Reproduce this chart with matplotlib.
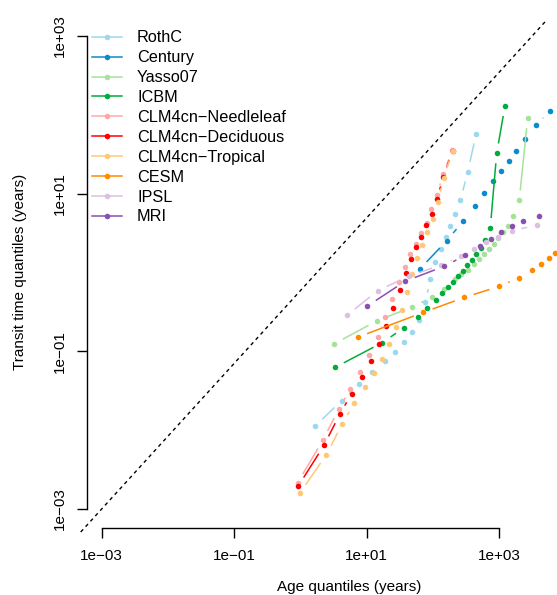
import numpy as np
import matplotlib
matplotlib.use("Agg")
import matplotlib.pyplot as plt
from matplotlib.lines import Line2D
from matplotlib.ticker import FixedLocator, FixedFormatter, NullLocator

plt.rcParams['font.family'] = ['Liberation Sans', 'DejaVu Sans']

# model names and colours, in plotting order
models = ['RothC', 'Century', 'Yasso07', 'ICBM', 'CLM4cn\u2212Needleleaf',
          'CLM4cn\u2212Deciduous', 'CLM4cn\u2212Tropical', 'CESM', 'IPSL', 'MRI']
colors = ['#9dd8ee', '#0a8ccc', '#a6e29a', '#00ad3c', '#ffa8a8',
          '#ff0000', '#ffc878', '#ff8a00', '#dcc0e0', '#8a50b0']

# age quantiles (years) and transit time quantiles (years)
rothc_age = [1.66, 4.21, 7.69, 12.2, 19.0, 27.2, 37.1, 49.4, 62.5, 76.8,
             92.3, 109, 132, 156, 185, 220, 262, 337, 454]
rothc_tt = [0.0112, 0.0237, 0.0382, 0.0542, 0.0748, 0.0982, 0.130, 0.175, 0.248, 0.417,
            0.820, 1.36, 2.00, 2.81, 3.87, 5.44, 8.24, 19.0, 57.7]

century_age = [63.4, 162, 286, 434, 600, 803, 1060, 1400, 1820, 2490, 3610, 5940]
century_tt = [1.10, 2.53, 4.44, 6.93, 10.3, 14.5, 19.4, 26.0, 34.8, 49.0, 73.6, 113]

yasso_age = [3.22, 14.5, 49.0, 97.3, 149, 216, 267, 344, 424, 504,
             597, 706, 832, 982, 1140, 1370, 1640, 2020, 2710]
yasso_tt = [0.124, 0.245, 0.365, 0.489, 0.624, 0.828, 0.944, 1.09, 1.27, 1.48,
            1.72, 2.00, 2.32, 2.70, 3.30, 3.93, 5.14, 8.20, 90.4]

icbm_age = [3.33, 17.3, 37.1, 59.1, 82.6, 110, 138, 169, 204, 243,
            283, 332, 387, 454, 535, 621, 738, 923, 1230]
icbm_tt = [0.0624, 0.129, 0.200, 0.275, 0.358, 0.446, 0.542, 0.646, 0.764, 0.897,
           1.04, 1.25, 1.43, 1.71, 2.03, 2.57, 3.67, 32.5, 129]

needle_age = [0.912, 2.20, 3.79, 5.68, 8.04, 11.0, 14.7, 19.2, 24.4, 30.5,
              38.0, 45.7, 55.2, 66.4, 81.7, 95.5, 116, 143, 198]
needle_tt = [0.00216, 0.0075, 0.0184, 0.0333, 0.0552, 0.0899, 0.153, 0.270, 0.457, 0.764,
             1.19, 1.70, 2.32, 3.14, 4.25, 6.39, 9.62, 17.8, 35.8]

decid_age = [0.931, 2.28, 3.93, 5.96, 8.44, 11.5, 15.2, 19.9, 25.3, 31.6,
             39.0, 46.4, 55.7, 67.0, 79.8, 96.2, 116, 144, 200]
decid_tt = [0.00196, 0.00643, 0.0159, 0.0290, 0.0472, 0.0748, 0.124, 0.209, 0.355, 0.600,
            0.977, 1.50, 2.09, 2.84, 3.97, 5.52, 8.49, 16.4, 34.8]

trop_age = [0.989, 2.47, 4.30, 6.53, 9.38, 12.8, 16.9, 21.8, 27.5, 33.9,
            41.2, 49.0, 58.3, 69.4, 82.6, 99.5, 120, 146, 200]
trop_tt = [0.00160, 0.00489, 0.0120, 0.0221, 0.0353, 0.0531, 0.0800, 0.124, 0.202, 0.334,
           0.561, 0.957, 1.51, 2.25, 3.27, 4.77, 7.84, 16.0, 34.8]

cesm_age = [7.35, 71.6, 298, 1000, 2000, 3120, 4350, 5690, 7000]
cesm_tt = [0.151, 0.311, 0.482, 0.665, 0.857, 1.06, 1.29, 1.54, 1.79]

ipsl_age = [5.06, 14.7, 44.5, 135, 264, 419, 636, 975, 1550, 3750]
ipsl_tt = [0.286, 0.588, 0.904, 1.25, 1.61, 2.00, 2.42, 2.84, 3.39, 3.97]

mri_age = [10.3, 38.5, 149, 310, 511, 757, 1080, 1550, 2330, 3970]
mri_tt = [0.376, 0.776, 1.20, 1.65, 2.14, 2.66, 3.24, 3.84, 4.54, 5.28]

ages = [rothc_age, century_age, yasso_age, icbm_age, needle_age,
        decid_age, trop_age, cesm_age, ipsl_age, mri_age]
transits = [rothc_tt, century_tt, yasso_tt, icbm_tt, needle_tt,
            decid_tt, trop_tt, cesm_tt, ipsl_tt, mri_tt]

# reference line
ref_x = [10 ** -3.317, 10 ** 3.707]
ref_y = [10 ** -3.292, 10 ** 3.19]

tick_vals = [1e-3, 1e-1, 1e1, 1e3]
tick_labels = ['1e\u221203', '1e\u221201', '1e+01', '1e+03']

W, H = 557, 595
fig = plt.figure(figsize=(W / 100, H / 100), dpi=100)
ax = fig.add_axes([87 / W, (H - 528) / H, (557 - 87) / W, (528 - 21) / H])
ax.set_xscale('log')
ax.set_yscale('log')
ax.set_xlim(10 ** -3.222, 10 ** 3.876)
ax.set_ylim(10 ** -3.241, 10 ** 3.190)

for s in ['top', 'right']:
    ax.spines[s].set_visible(False)
ax.spines['left'].set_bounds(1e-3, 1e3)
ax.spines['bottom'].set_bounds(1e-3, 1e3)
for s in ['left', 'bottom']:
    ax.spines[s].set_linewidth(1.0)

for axis in (ax.xaxis, ax.yaxis):
    axis.set_major_locator(FixedLocator(tick_vals))
    axis.set_major_formatter(FixedFormatter(tick_labels))
    axis.set_minor_locator(NullLocator())
ax.tick_params(axis='both', length=7.2, width=1.0, labelsize=11, color='black')
ax.tick_params(axis='x', pad=8)
ax.tick_params(axis='y', pad=7.5, labelrotation=90)
plt.setp(ax.get_yticklabels(), va='center')

ax.set_xlabel('Age quantiles (years)', fontsize=11)
ax.xaxis.set_label_coords((349 - 87) / 470, (H - 587 - 67) / 507)
ax.xaxis.label.set_va('center')
ax.set_ylabel('Transit time quantiles (years)', fontsize=11)
ax.yaxis.set_label_coords((20 - 87) / 470, (H - 272 - 67) / 507)
ax.yaxis.label.set_va('center')

ax.plot(ref_x, ref_y, color='black', lw=1, dashes=(2.6, 2.6), clip_on=False, zorder=1)

# R style type="b": segments stop short of the points
gap = 10.0
inv = ax.transData.inverted()
handles = []
for i, (name, col, xs, ys) in enumerate(zip(models, colors, ages, transits)):
    pts = ax.transData.transform(np.column_stack([xs, ys]))
    for p0, p1 in zip(pts[:-1], pts[1:]):
        d = p1 - p0
        L = np.hypot(d[0], d[1])
        if L <= 2 * gap:
            continue
        u = d / L
        seg = inv.transform(np.array([p0 + gap * u, p1 - gap * u]))
        ax.plot(seg[:, 0], seg[:, 1], color=col, lw=1.1, solid_capstyle='butt',
                zorder=2 + i)
    ax.plot(xs, ys, 'o', color=col, ms=4.0, mew=0, zorder=2 + i)
    handles.append(Line2D([], [], color=col, lw=1.1, marker='o', ms=4.0, mew=0))

ax.legend(handles, models, loc='upper left', bbox_to_anchor=(92 / W, (H - 30.5) / H),
          bbox_transform=fig.transFigure, frameon=False, fontsize=11.7, borderpad=0,
          borderaxespad=0, handlelength=1.85, handletextpad=0.92, labelspacing=0.30,
          numpoints=1)

fig.savefig('out.png', dpi=100)
